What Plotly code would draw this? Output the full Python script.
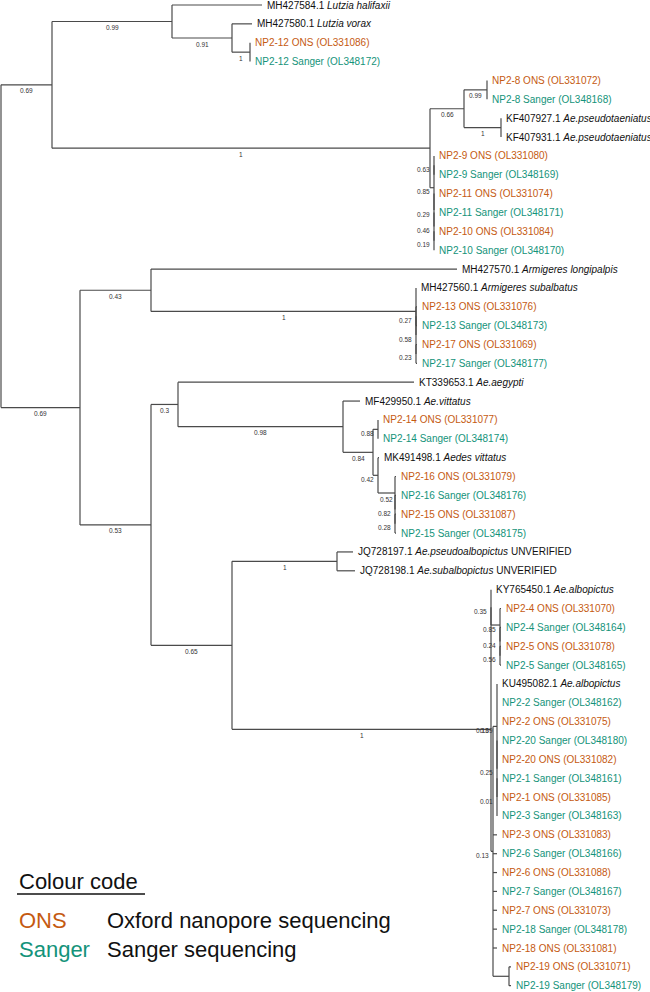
import re
import plotly.graph_objects as go

# Tree topology, support values and branch lengths (Newick), tips ordered top to bottom
NEWICK = """
(
 ((MH427584.1:0.090,(MH427580.1:0.020,(OL331086:0,OL348172:0)1:0.018)0.91:0.060)0.99:0.120,
  (((OL331072:0,OL348168:0)0.99:0.023,(KF407927.1:0,KF407931.1:0)1:0.037)0.66:0.034,
   ((OL331080:0,OL348169:0)0.63:0,(OL331074:0,(OL348171:0,(OL331084:0,OL348170:0)0.19:0)0.46:0)0.29:0)0.85:0.004
  )1:0.378
 )0.69:0.051,
 ((MH427570.1:0.306,
   (MH427560.1:0,((OL331076:0.001,OL348173:0.001)0.27:0,(OL331069:0.001,OL348177:0.001)0.23:0)0.58:0)1:0.265
  )0.43:0.071,
  ((KT339653.1:0.236,
    (MF429950.1:0.017,
     ((OL331077:0,OL348174:0)0.88:0.005,
      (MK491498.1:0.001,(OL331079:0.001,(OL348176:0.001,(OL331087:0.001,OL348175:0.001)0.28:0)0.82:0)0.52:0.017)0.42:0.005
     )0.84:0.030
    )0.98:0.165
   )0.3:0.027,
   ((JQ728197.1:0.016,JQ728198.1:0.018)1:0.105,
    ((KY765450.1:0,(OL331070:0.001,(OL348164:0.001,(OL331078:0.001,OL348165:0.001)0.56:0)0.24:0)0.85:0.009)0.35:0,
     (((KU495082.1:0,OL348162:0,OL331075:0,(OL348180:0,OL331082:0,(OL348161:0,OL331085:0,OL348163:0)0.01:0)0.25:0)0.09:0.004)0.13:0,
      OL331083:0.004,OL348166:0.004,OL331088:0.004,OL348167:0.004,OL331073:0.004,OL348178:0.004,OL331081:0.004,
      (OL331071:0.002,OL348179:0.002):0.016
     )0.13:0.002
    )1:0.259
   )0.65:0.081
  )0.53:0.071
 )0.69:0.079
);
"""

# Reference sequences
REF_ACC = ["MH427584.1", "MH427580.1", "KF407927.1", "KF407931.1", "MH427570.1",
           "MH427560.1", "KT339653.1", "MF429950.1", "MK491498.1", "JQ728197.1",
           "JQ728198.1", "KY765450.1", "KU495082.1"]
REF_TAXON = ["Lutzia halifaxii", "Lutzia vorax", "Ae.pseudotaeniatus", "Ae.pseudotaeniatus",
             "Armigeres longipalpis", "Armigeres subalbatus", "Ae.aegypti", "Ae.vittatus",
             "Aedes vittatus", "Ae.pseudoalbopictus", "Ae.subalbopictus", "Ae.albopictus",
             "Ae.albopictus"]
REF_NOTE = ["", "", "", "", "", "", "", "", "", "UNVERIFIED", "UNVERIFIED", "", ""]

# Field samples
SAMPLE_ACC = ["OL331086", "OL348172", "OL331072", "OL348168", "OL331080", "OL348169",
              "OL331074", "OL348171", "OL331084", "OL348170", "OL331076", "OL348173",
              "OL331069", "OL348177", "OL331077", "OL348174", "OL331079", "OL348176",
              "OL331087", "OL348175", "OL331070", "OL348164", "OL331078", "OL348165",
              "OL348162", "OL331075", "OL348180", "OL331082", "OL348161", "OL331085",
              "OL348163", "OL331083", "OL348166", "OL331088", "OL348167", "OL331073",
              "OL348178", "OL331081", "OL331071", "OL348179"]
SAMPLE_ID = ["NP2-12", "NP2-12", "NP2-8", "NP2-8", "NP2-9", "NP2-9", "NP2-11", "NP2-11",
             "NP2-10", "NP2-10", "NP2-13", "NP2-13", "NP2-17", "NP2-17", "NP2-14", "NP2-14",
             "NP2-16", "NP2-16", "NP2-15", "NP2-15", "NP2-4", "NP2-4", "NP2-5", "NP2-5",
             "NP2-2", "NP2-2", "NP2-20", "NP2-20", "NP2-1", "NP2-1", "NP2-3", "NP2-3",
             "NP2-6", "NP2-6", "NP2-7", "NP2-7", "NP2-18", "NP2-18", "NP2-19", "NP2-19"]
SAMPLE_METHOD = ["ONS", "Sanger", "ONS", "Sanger", "ONS", "Sanger", "ONS", "Sanger",
                 "ONS", "Sanger", "ONS", "Sanger", "ONS", "Sanger", "ONS", "Sanger",
                 "ONS", "Sanger", "ONS", "Sanger", "ONS", "Sanger", "ONS", "Sanger",
                 "Sanger", "ONS", "Sanger", "ONS", "Sanger", "ONS", "Sanger", "ONS",
                 "Sanger", "ONS", "Sanger", "ONS", "Sanger", "ONS", "ONS", "Sanger"]

LEGEND_KEYS = ["ONS", "Sanger"]
LEGEND_TEXT = ["Oxford nanopore sequencing", "Sanger sequencing"]

COLORS = {"ONS": "#C55A11", "Sanger": "#14937A", "ref": "#111111"}
FONT = "Liberation Sans, Arial, sans-serif"

W, H = 650, 992
PX_PER_UNIT = 1000.0
Y0, DY = 5.0, 18.86          # pixel centre of first tip, tip spacing


def parse_newick(s):
    s = re.sub(r"\s+", "", s).rstrip(";")
    pos = 0

    def node():
        nonlocal pos
        n = {"children": [], "name": "", "len": 0.0}
        if s[pos] == "(":
            pos += 1
            while True:
                n["children"].append(node())
                if s[pos] == ",":
                    pos += 1
                    continue
                pos += 1
                break
        m = re.match(r"[^:,()]*", s[pos:])
        n["name"] = m.group(0)
        pos += len(n["name"])
        if pos < len(s) and s[pos] == ":":
            pos += 1
            m = re.match(r"[0-9.eE+-]+", s[pos:])
            n["len"] = float(m.group(0))
            pos += len(m.group(0))
        return n

    return node()


tree = parse_newick(NEWICK)
leaves = []


def layout(n, x0):
    n["x"] = x0 + n["len"]
    for c in n["children"]:
        c["parent"] = n
        layout(c, n["x"])
    if n["children"]:
        n["y"] = (n["children"][0]["y"] + n["children"][-1]["y"]) / 2
    else:
        n["y"] = len(leaves)
        leaves.append(n)


layout(tree, 0.0)

labels = {}
for acc, tax, note in zip(REF_ACC, REF_TAXON, REF_NOTE):
    labels[acc] = (f"{acc} <i>{tax}</i>" + (f" {note}" if note else ""), COLORS["ref"])
for acc, sid, meth in zip(SAMPLE_ACC, SAMPLE_ID, SAMPLE_METHOD):
    labels[acc] = (f"{sid} {meth} ({acc})", COLORS[meth])

xs, ys = [], []
annotations = []


def walk(n):
    if "parent" in n:
        p = n["parent"]
        xs.extend([p["x"], n["x"], None])
        ys.extend([n["y"], n["y"], None])
        if n["children"] and n["name"]:
            if n["len"] * PX_PER_UNIT >= 16:
                annotations.append(dict(
                    x=p["x"] + n["len"] / 2, y=n["y"], text=n["name"], showarrow=False,
                    xanchor="center", yanchor="middle", yshift=-6,
                    font=dict(size=6.5, color="#333333", family=FONT)))
            else:
                annotations.append(dict(
                    x=n["x"], y=n["y"], text=n["name"], showarrow=False,
                    xanchor="right", yanchor="middle", xshift=-2, yshift=-4,
                    font=dict(size=6.5, color="#333333", family=FONT)))
    if n["children"]:
        xs.extend([n["x"], n["x"], None])
        ys.extend([n["children"][0]["y"], n["children"][-1]["y"], None])
        for c in n["children"]:
            walk(c)
    else:
        text, col = labels[n["name"]]
        annotations.append(dict(
            x=n["x"], y=n["y"], text=text, showarrow=False, xanchor="left",
            yanchor="middle", xshift=3, font=dict(size=10, color=col, family=FONT)))


walk(tree)

fig = go.Figure()
fig.add_trace(go.Scatter(
    x=xs, y=ys, mode="lines",
    line=dict(color="#4a4a4a", width=1.2),
    hoverinfo="skip", showlegend=False,
))

# Colour code legend
annotations.append(dict(
    x=17 / W, y=1 - 881 / H, xref="paper", yref="paper", text="Colour code",
    showarrow=False, xanchor="left", yanchor="middle",
    font=dict(size=22, color="#111111", family=FONT)))
for i, (key, txt) in enumerate(zip(LEGEND_KEYS, LEGEND_TEXT)):
    ypx = 920 + 29 * i
    annotations.append(dict(
        x=17 / W, y=1 - ypx / H, xref="paper", yref="paper", text=key,
        showarrow=False, xanchor="left", yanchor="middle",
        font=dict(size=22, color=COLORS[key], family=FONT)))
    annotations.append(dict(
        x=105 / W, y=1 - ypx / H, xref="paper", yref="paper", text=txt,
        showarrow=False, xanchor="left", yanchor="middle",
        font=dict(size=22, color="#111111", family=FONT)))

fig.update_layout(
    width=W, height=H,
    margin=dict(l=0, r=0, t=0, b=0),
    paper_bgcolor="white", plot_bgcolor="white",
    xaxis=dict(range=[-1 / PX_PER_UNIT, (W - 1) / PX_PER_UNIT], visible=False, fixedrange=True),
    yaxis=dict(range=[(H - Y0) / DY, -Y0 / DY], visible=False, fixedrange=True),
    annotations=annotations,
    shapes=[dict(type="line", xref="paper", yref="paper",
                 x0=17 / W, x1=145 / W, y0=1 - 894 / H, y1=1 - 894 / H,
                 line=dict(color="#111111", width=1.5))],
)

# page body has a default 8px margin; drop it so the figure sits at the window corner
fig.write_html("out.html", config={"displayModeBar": False},
               post_script="document.body.style.margin='0';")
